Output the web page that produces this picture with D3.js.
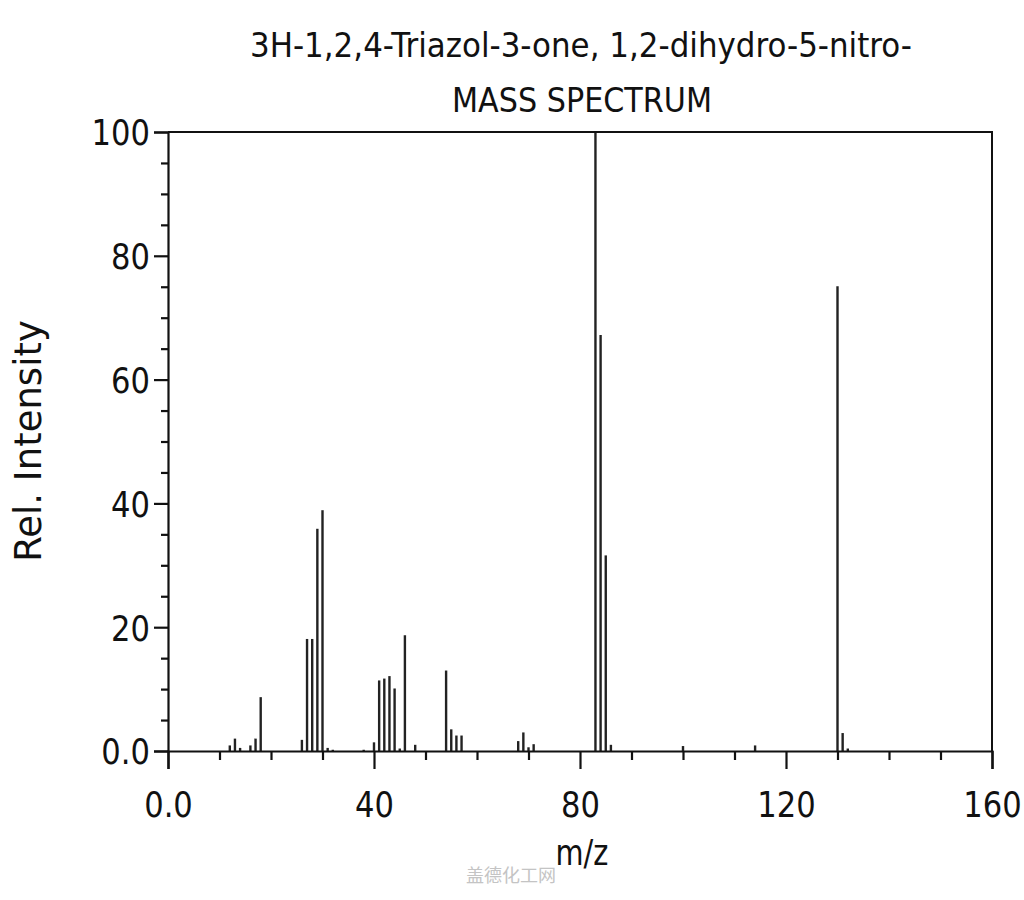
<!DOCTYPE html>
<html>
<head>
<meta charset="utf-8">
<script src="https://cdn.jsdelivr.net/npm/d3@7/dist/d3.min.js"></script>
<style>
  html, body { margin: 0; padding: 0; background: #fff; }
  svg { display: block; }
  text { font-family: "DejaVu Sans", sans-serif; fill: #111; }
</style>
</head>
<body>
<svg id="chart" width="1024" height="900"></svg>
<script>
// ---- data ----
const titleLines = ["3H-1,2,4-Triazol-3-one, 1,2-dihydro-5-nitro-", "MASS SPECTRUM"];
const xLabel = "m/z";
const yLabel = "Rel. Intensity";
const watermark = "盖德化工网";

const mzValues = [12, 13, 14, 16, 17, 18, 26, 27, 28, 29, 30, 31, 32, 38,
                  40, 41, 42, 43, 44, 45, 46, 48, 54, 55, 56, 57,
                  68, 69, 70, 71, 83, 84, 85, 86, 100, 114, 130, 131, 132];
const intensities = [0.9, 2.0, 0.5, 0.9, 2.0, 8.7, 1.8, 18.1, 18.1, 35.9, 38.9, 0.5, 0.2, 0.2,
                     1.4, 11.4, 11.7, 12.1, 10.1, 0.4, 18.7, 1.0, 13.0, 3.5, 2.5, 2.5,
                     1.6, 3.0, 0.6, 1.1, 100, 67.2, 31.6, 1.0, 0.8, 0.9, 75.1, 2.9, 0.4];

const xTickValues = [0, 40, 80, 120, 160];
const xTickLabels = ["0.0", "40", "80", "120", "160"];
const xMinorTickValues = [10, 20, 30, 50, 60, 70, 90, 100, 110, 130, 140, 150];
const yTickValues = [0, 20, 40, 60, 80, 100];
const yTickLabels = ["0.0", "20", "40", "60", "80", "100"];
const yMinorTickValues = [5, 10, 15, 25, 30, 35, 45, 50, 55, 65, 70, 75, 85, 90, 95];

// ---- layout ----
const L = 168, R = 992, T = 132, B = 751;
const svg = d3.select("#chart");

const x = d3.scaleLinear().domain([0, 160]).range([L, R]);
const y = d3.scaleLinear().domain([0, 100]).range([B, T]);

// bars (sticks)
svg.append("g").selectAll("line")
  .data(mzValues.map((m, i) => ({ m, v: intensities[i] })))
  .join("line")
  .attr("x1", d => x(d.m)).attr("x2", d => x(d.m))
  .attr("y1", y(0)).attr("y2", d => y(d.v))
  .attr("stroke", "#222")
  .attr("stroke-width", 2.4);

// frame (top and right)
svg.append("path")
  .attr("d", `M${L},${T}H${R}V${B}`)
  .attr("fill", "none").attr("stroke", "#111").attr("stroke-width", 2);

// x axis
const xMajor = svg.append("g").attr("transform", `translate(0,${B})`)
  .call(d3.axisBottom(x).tickValues(xTickValues)
    .tickFormat((d, i) => xTickLabels[i]).tickSize(18).tickPadding(22));
const xMinor = svg.append("g").attr("transform", `translate(0,${B})`)
  .call(d3.axisBottom(x).tickValues(xMinorTickValues).tickFormat("").tickSize(9));

// y axis
const yMajor = svg.append("g").attr("transform", `translate(${L},0)`)
  .call(d3.axisLeft(y).tickValues(yTickValues)
    .tickFormat((d, i) => yTickLabels[i]).tickSize(14).tickPadding(0));
const yMinor = svg.append("g").attr("transform", `translate(${L},0)`)
  .call(d3.axisLeft(y).tickValues(yMinorTickValues).tickFormat("").tickSize(7));

[xMajor, xMinor, yMajor, yMinor].forEach(g => {
  g.select(".domain").attr("stroke", "#111").attr("stroke-width", 2.2);
  g.selectAll(".tick line").attr("stroke", "#111").attr("stroke-width", 2.2);
});
xMinor.select(".domain").remove();
yMinor.select(".domain").remove();

// tick labels: condensed via horizontal scaling about their anchor
xMajor.selectAll(".tick text")
  .attr("font-family", "DejaVu Sans").attr("font-size", 36).attr("fill", "#111")
  .attr("dy", "0.71em")
  .attr("transform", "scale(0.85,1)")
  .attr("y", 18 + 22);
yMajor.selectAll(".tick text")
  .attr("font-family", "DejaVu Sans").attr("font-size", 36).attr("fill", "#111")
  .attr("dy", "0.36em")
  .attr("x", 0)
  .attr("transform", `translate(-18,0) scale(0.85,1)`);

// title
const t1 = svg.append("text").attr("x", 581).attr("y", 57)
  .attr("text-anchor", "middle").attr("font-size", 34).text(titleLines[0]);
const t2 = svg.append("text").attr("x", 582).attr("y", 112)
  .attr("text-anchor", "middle").attr("font-size", 34).text(titleLines[1]);
t1.attr("textLength", 662).attr("lengthAdjust", "spacingAndGlyphs");
t2.attr("textLength", 260).attr("lengthAdjust", "spacingAndGlyphs");

// axis labels
svg.append("text")
  .attr("transform", "translate(582,865) scale(0.8,1)")
  .attr("text-anchor", "middle").attr("font-size", 36).text(xLabel);

svg.append("text")
  .attr("transform", "translate(41,441) rotate(-90)")
  .attr("text-anchor", "middle").attr("font-size", 37).text(yLabel);

// watermark
svg.append("text").attr("x", 511).attr("y", 882)
  .attr("text-anchor", "middle")
  .attr("font-size", 18)
  .style("font-family", "'Noto Sans CJK SC', sans-serif")
  .style("fill", "#c4c4c4").text(watermark);
</script>
</body>
</html>
